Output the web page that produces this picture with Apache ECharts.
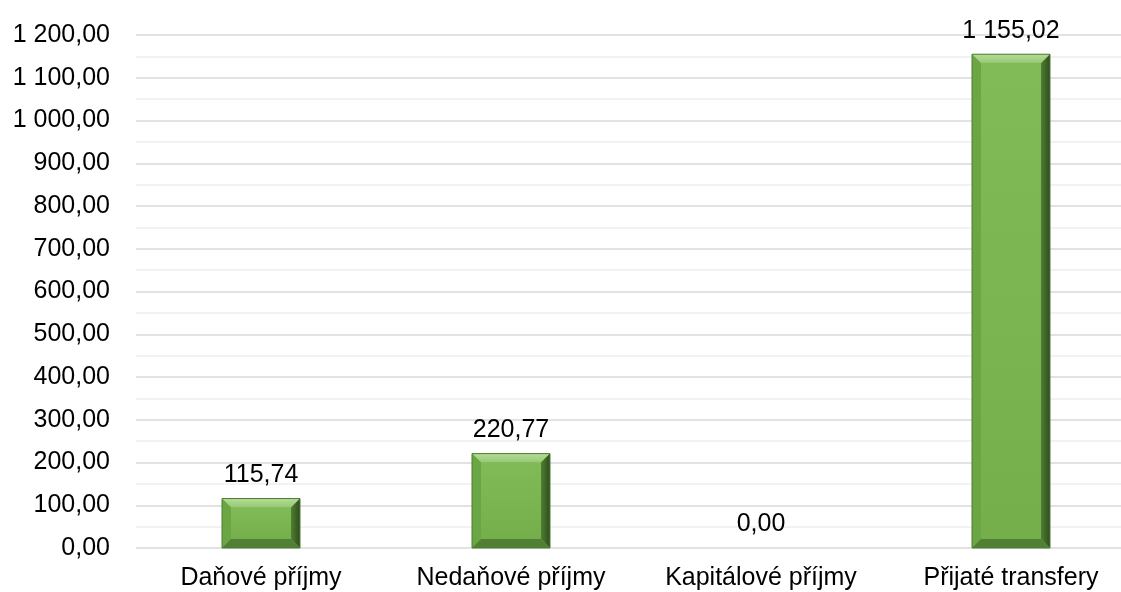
<!DOCTYPE html>
<html>
<head>
  <meta charset="UTF-8">
  <title>Příjmy</title>
  <script src="https://cdn.jsdelivr.net/npm/echarts@6/dist/echarts.min.js"></script>
  <style>
    html, body { margin: 0; padding: 0; background: #fff; }
    #main { width: 1121px; height: 592px; }
  </style>
</head>
<body>
  <div id="main"></div>
<script type="text/javascript">
  var categories = ['Daňové příjmy', 'Nedaňové příjmy', 'Kapitálové příjmy', 'Přijaté transfery'];
  var values = [115.74, 220.77, 0.00, 1155.02];

  // 1 234,56 style numbers
  function fmt(v) {
    var parts = v.toFixed(2).split('.');
    var intPart = parts[0].replace(/\B(?=(\d{3})+(?!\d))/g, ' ');
    return intPart + ',' + parts[1];
  }

  var font = 'Liberation Sans, Arial, sans-serif';
  var BAR_W = 78;
  var BEV = 9;

  // bevelled bar like the office chart
  function renderBar(params, api) {
    var idx = api.value(0);
    var val = api.value(1);
    var top = api.coord([idx, val]);
    var bottom = api.coord([idx, 0]);
    var x0 = top[0] - BAR_W / 2, x1 = top[0] + BAR_W / 2;
    var y0 = top[1], y1 = bottom[1];
    var children = [];
    var h = y1 - y0;
    if (h > 0.5) {
      var b = Math.min(BEV, h / 2);
      children.push(
        { type: 'rect', shape: { x: x0, y: y0, width: BAR_W, height: h }, style: { fill: '#78b450' } },
        { type: 'polygon', shape: { points: [[x0, y0], [x1, y0], [x1 - b, y0 + b], [x0 + b, y0 + b]] },
          style: { fill: new echarts.graphic.LinearGradient(0, 0, 0, 1, [
            { offset: 0, color: '#b5dc98' }, { offset: 1, color: '#96c872' }]) } },
        { type: 'polygon', shape: { points: [[x0, y0], [x0 + b, y0 + b], [x0 + b, y1 - b], [x0, y1]] }, style: { fill: '#6ba644' } },
        { type: 'polygon', shape: { points: [[x1, y0], [x1, y1], [x1 - b, y1 - b], [x1 - b, y0 + b]] },
          style: { fill: new echarts.graphic.LinearGradient(0, 0, 1, 0, [
            { offset: 0, color: '#4f7f32' }, { offset: 1, color: '#2f4c1d' }]) } },
        { type: 'polygon', shape: { points: [[x0, y1], [x1, y1], [x1 - b, y1 - b], [x0 + b, y1 - b]] }, style: { fill: '#527f36' } },
        { type: 'rect', shape: { x: x0 + b, y: y0 + b, width: BAR_W - 2 * b, height: h - 2 * b },
          style: { fill: new echarts.graphic.LinearGradient(0, 0, 0, 1, [
            { offset: 0, color: '#80bb58' }, { offset: 1, color: '#74af4c' }]) } },
        { type: 'rect', shape: { x: x0, y: y0, width: BAR_W, height: h }, style: { fill: 'none', stroke: '#4e7d33', lineWidth: 1 } }
      );
    }
    children.push({
      type: 'text',
      style: {
        x: top[0], y: y0 - 11, text: fmt(val), align: 'center', verticalAlign: 'bottom',
        fill: '#000', font: '25px ' + font
      }
    });
    return { type: 'group', children: children };
  }

  var myChart = echarts.init(document.getElementById('main'));
  var option = {
    animation: false,
    grid: { left: 136, top: 35, width: 1000, height: 513, outerBoundsMode: 'none', containLabel: false },
    xAxis: {
      type: 'category',
      data: categories,
      axisLine: { show: false },
      axisTick: { show: false },
      axisLabel: { color: '#000', fontSize: 25, fontFamily: font, margin: 18, interval: 0, hideOverlap: false }
    },
    yAxis: {
      type: 'value',
      min: 0,
      max: 1200,
      interval: 100,
      axisLine: { show: false },
      axisTick: { show: false },
      axisLabel: { color: '#000', fontSize: 25, fontFamily: font, margin: 26, formatter: fmt },
      splitLine: { lineStyle: { color: '#d9d9d9', width: 1.5 } },
      minorTick: { show: false, splitNumber: 2 },
      minorSplitLine: { show: true, lineStyle: { color: '#eeeeee', width: 1.5 } }
    },
    series: [{
      type: 'custom',
      renderItem: renderBar,
      encode: { x: 0, y: 1 },
      data: values.map(function (v, i) { return [i, v]; })
    }]
  };
  myChart.setOption(option);
</script>
</body>
</html>
